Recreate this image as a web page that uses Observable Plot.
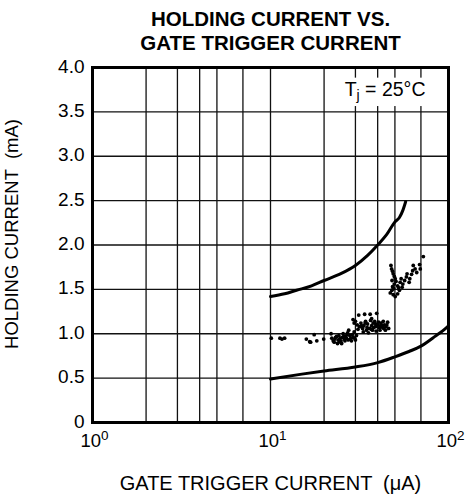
<!DOCTYPE html>
<html><head><meta charset="utf-8">
<script src="https://cdn.jsdelivr.net/npm/d3@7"></script>
<script src="https://cdn.jsdelivr.net/npm/@observablehq/plot@0.6"></script>
<style>body{margin:0;background:#fff} svg{display:block}</style>
</head><body><div id="chart"></div>
<script>
const titleText = "HOLDING CURRENT VS.\nGATE TRIGGER CURRENT";
const xTitle = "GATE TRIGGER CURRENT  (μA)";
const yTitle = "HOLDING CURRENT  (mA)";
const tempLabel = "Tj = 25°C";

const xGrid = [2, 3, 4, 5, 7, 10, 20, 30, 40, 50, 70];
const yGrid = [0.5, 1, 1.5, 2, 2.5, 3, 3.5];
const xTicks = [1, 10, 100];
const yTicks = [0, 0.5, 1, 1.5, 2, 2.5, 3, 3.5, 4];
const yTickLabels = ["0", "0.5", "1.0", "1.5", "2.0", "2.5", "3.0", "3.5", "4.0"];

// label background box (data units)
const labelBox = [{x1: 24, x2: 100, y1: 3.56, y2: 3.88}];

// upper limit curve
const upperX = [10, 12, 14, 17, 20, 25, 30, 35, 40, 45, 50, 53, 55.4, 57.5];
const upperY = [1.42, 1.45, 1.49, 1.54, 1.60, 1.68, 1.77, 1.88, 2.0, 2.12, 2.26, 2.31, 2.39, 2.49];
// lower limit curve
const lowerX = [10, 15, 20, 30, 40, 50, 60, 70, 84, 97.5, 100];
const lowerY = [0.49, 0.545, 0.58, 0.625, 0.675, 0.74, 0.80, 0.86, 0.97, 1.07, 1.09];

// measured devices
const dotX = [
 10.1, 11.3, 11.6, 12.0, 15.9, 16.6, 16.8, 17.6, 18.2, 19.9,
 21.9, 22.1, 22.5, 22.8, 23.0, 23.5, 23.8, 24.0, 24.2, 24.6, 24.9, 25.1, 25.3, 25.6, 26.0,
 26.2, 26.4, 26.7, 27.1, 27.3, 27.5, 27.9, 28.3, 28.5, 28.8, 29.1, 29.5, 29.7, 30.0, 30.4,
 29.1, 29.5, 30.0, 30.7, 31.3, 31.6, 32.2, 32.9, 33.2, 33.5, 33.8, 34.2, 34.6, 34.9, 35.1,
 35.5, 36.0, 36.3, 36.5, 37.0, 37.0, 37.4, 37.7, 38.0, 38.5, 38.9, 39.2, 39.5, 40.0, 40.5,
 40.9, 41.2, 41.8, 42.3, 42.7, 43.0, 43.6, 44.2, 44.5, 45.5, 46.1,
 47.5, 47.9, 48.5, 48.9, 49.6, 50.2, 50.7, 49.6, 48.5, 48.1, 47.1, 48.9, 50.2, 51.8, 53.0,
 51.8, 53.5, 54.2, 54.9, 55.4, 56.7, 58.0, 58.5, 60.1, 60.6, 62.0, 62.9, 63.4, 64.9, 66.3,
 68.8, 69.4, 72.2,
 23.2, 24.4, 25.8, 26.9, 28.0, 31.0, 32.5, 34.0, 36.8, 39.0, 41.5, 43.3, 45.0, 48.2, 49.2, 52.4
];
const dotY = [
 0.95, 0.95, 0.94, 0.95, 0.94, 0.91, 0.905, 0.99, 0.92, 0.94,
 1.00, 0.95, 0.92, 0.905, 0.94, 0.97, 0.89, 0.93, 0.98, 0.95, 0.92, 0.89, 0.96, 1.00, 0.94,
 0.92, 0.97, 0.95, 1.01, 0.93, 1.04, 0.98, 0.95, 0.92, 0.99, 0.96, 1.02, 0.95, 0.93, 0.98,
 1.16, 1.12, 1.14, 1.10, 1.21, 1.08, 1.12, 1.06, 1.02, 1.09, 1.22, 1.14, 1.04, 1.07, 1.11,
 1.01, 1.06, 1.22, 1.15, 1.09, 1.17, 1.04, 1.12, 1.07, 1.14, 1.08, 1.03, 1.23, 1.10, 1.13,
 1.07, 1.04, 1.12, 1.09, 1.07, 1.14, 1.10, 1.04, 1.08, 1.13, 1.06,
 1.77, 1.73, 1.705, 1.675, 1.645, 1.62, 1.59, 1.56, 1.53, 1.49, 1.46, 1.44, 1.42, 1.45, 1.49,
 1.54, 1.58, 1.62, 1.525, 1.56, 1.60, 1.64, 1.675, 1.58, 1.62, 1.67, 1.71, 1.77, 1.73, 1.69,
 1.78, 1.73, 1.87,
 0.96, 0.91, 0.97, 0.99, 0.94, 1.05, 1.09, 1.12, 1.05, 1.11, 1.09, 1.06, 1.10, 1.60, 1.51, 1.52
];

const upper = upperX.map((x, i) => ({x, y: upperY[i]}));
const lower = lowerX.map((x, i) => ({x, y: lowerY[i]}));
const dots = dotX.map((x, i) => ({x, y: dotY[i]}));
const yTickData = yTicks.map((y, i) => ({y, label: yTickLabels[i]}));

const font = "'Liberation Sans', Arial, Helvetica, sans-serif";

const chart = Plot.plot({
  width: 467,
  height: 497,
  marginTop: 67,
  marginBottom: 75,
  marginLeft: 92,
  marginRight: 19,
  x: {type: "log", domain: [1, 100], axis: null},
  y: {domain: [0, 4], axis: null},
  style: {fontFamily: font, background: "white", color: "black", overflow: "visible"},
  marks: [
    Plot.ruleX(xGrid, {stroke: "#111", strokeWidth: 1.3}),
    Plot.ruleY(yGrid, {stroke: "#111", strokeWidth: 1.3}),
    Plot.rect(labelBox, {x1: "x1", x2: "x2", y1: "y1", y2: "y2", fill: "white"}),
    Plot.frame({stroke: "black", strokeWidth: 3}),
    Plot.line(upper, {x: "x", y: "y", curve: "monotone-x", stroke: "black", strokeWidth: 3}),
    Plot.line(lower, {x: "x", y: "y", curve: "monotone-x", stroke: "black", strokeWidth: 3}),
    Plot.dot(dots, {x: "x", y: "y", r: 1.9, fill: "black", stroke: null}),
    Plot.text(yTickData, {x: 1, y: "y", text: "label", textAnchor: "end", dx: -8, dy: -1, fontSize: 19, fill: "black"}),
    Plot.text(xTicks, {x: d => d, frameAnchor: "bottom", text: d => "10^" + Math.round(Math.log10(d)), textAnchor: "middle", lineAnchor: "middle", dy: 19, dx: 2, fontSize: 18.5, fill: "black"}),
    Plot.text([xTitle], {frameAnchor: "bottom", text: d => d, lineAnchor: "middle", dy: 61, fontSize: 20, fill: "black"}),
    Plot.text([yTitle], {frameAnchor: "left", text: d => d, rotate: -90, lineAnchor: "middle", textAnchor: "middle", dx: -80, dy: -11, fontSize: 18.5, fill: "black"}),
    Plot.text([titleText], {frameAnchor: "top", text: d => d, lineAnchor: "middle", lineHeight: 1.15, dy: -37, fontSize: 20.5, fontWeight: "bold", fill: "black"}),
    Plot.text([tempLabel], {frameAnchor: "top-right", text: d => d, textAnchor: "end", lineAnchor: "middle", dx: -23, dy: 22, fontSize: 19.5, fill: "black"})
  ]
});

// superscripts / subscripts
d3.select(chart).selectAll("text").each(function () {
  const t = d3.select(this);
  const s = this.textContent;
  const m = /^10\^(\d)$/.exec(s);
  if (m) {
    t.text(null);
    t.append("tspan").text("10");
    t.append("tspan").attr("dy", -7).attr("font-size", 13.5).text(m[1]);
  } else if (s === tempLabel) {
    t.text(null);
    t.append("tspan").text("T");
    t.append("tspan").attr("dy", 4).attr("font-size", 14).text("j");
    t.append("tspan").attr("dy", -4).text(" = 25°C");
  }
});

document.getElementById("chart").appendChild(chart);
</script>
</body></html>
